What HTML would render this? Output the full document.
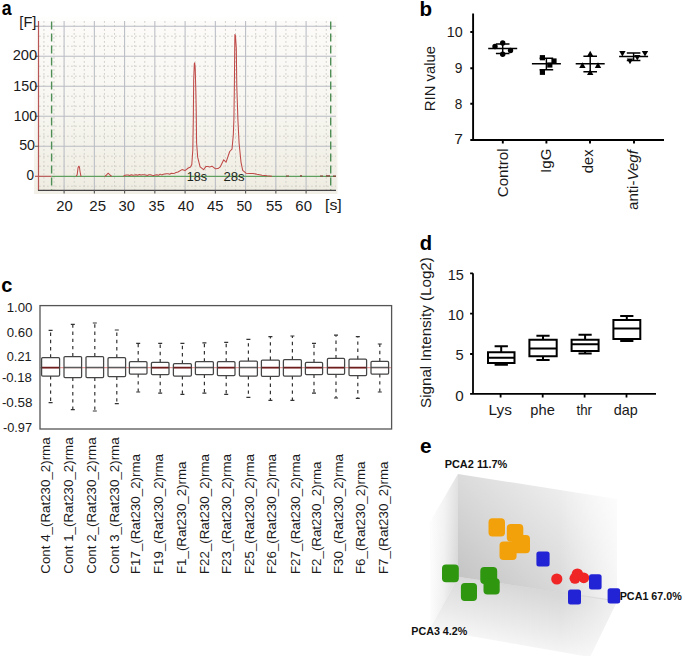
<!DOCTYPE html>
<html><head><meta charset="utf-8"><style>
html,body{margin:0;padding:0;background:#fff;}
svg{display:block;}
text{font-family:"Liberation Sans",sans-serif;fill:#1a1a1a;}
</style></head><body>
<svg width="685" height="656" viewBox="0 0 685 656">
<rect width="685" height="656" fill="#fff"/>
<defs><linearGradient id="pabg" x1="0" y1="21" x2="0" y2="191" gradientUnits="userSpaceOnUse"><stop offset="0" stop-color="#fcfbf9"/><stop offset="0.45" stop-color="#f8f7f2"/><stop offset="1" stop-color="#efede2"/></linearGradient></defs>
<defs><linearGradient id="pabg2" x1="0" y1="17" x2="0" y2="194" gradientUnits="userSpaceOnUse"><stop offset="0" stop-color="#fefefd"/><stop offset="0.5" stop-color="#faf9f5"/><stop offset="1" stop-color="#f1efe6"/></linearGradient></defs>
<rect x="34" y="17" width="303.5" height="177" fill="url(#pabg2)"/>
<rect x="38.5" y="21" width="297.5" height="169.5" fill="url(#pabg)"/>
<path d="M43.93 21V190 M54.02 21V190 M74.18 21V190 M84.27 21V190 M104.43 21V190 M114.52 21V190 M134.68 21V190 M144.77 21V190 M164.93 21V190 M175.02 21V190 M195.18 21V190 M205.27 21V190 M225.43 21V190 M235.52 21V190 M255.68 21V190 M265.77 21V190 M285.93 21V190 M296.02 21V190 M316.18 21V190 M326.27 21V190 M39 36.20H336 M39 46.20H336 M39 66.20H336 M39 76.20H336 M39 96.20H336 M39 106.20H336 M39 126.20H336 M39 136.20H336 M39 156.20H336 M39 166.20H336 M39 186.20H336" stroke="#d2d0ca" stroke-width="1" stroke-dasharray="1.8 2.2" fill="none"/>
<path d="M64.10 21V190.5 M94.35 21V190.5 M124.60 21V190.5 M154.85 21V190.5 M185.10 21V190.5 M215.35 21V190.5 M245.60 21V190.5 M275.85 21V190.5 M306.10 21V190.5 M38.5 26.20H336 M38.5 56.20H336 M38.5 86.20H336 M38.5 116.20H336 M38.5 146.20H336" stroke="#b9bcc3" stroke-width="1.05" fill="none"/>
<path d="M51.6 21.4V190.5M330.7 21.4V190.5" stroke="#4f8f55" stroke-width="1.4" stroke-dasharray="8 4" fill="none"/>
<path d="M35 176.3H51.6" stroke="#b04a4a" stroke-width="1.1"/>
<path d="M51.6 176.3H336" stroke="#5f9f5f" stroke-width="1.2"/>
<path d="M38.5 21V190.5" stroke="#b85555" stroke-width="1.2"/>
<path d="M38 190.4H336" stroke="#444" stroke-width="1.3"/>
<path d="M64.10 190V193.5 M94.35 190V193.5 M124.60 190V193.5 M154.85 190V193.5 M185.10 190V193.5 M215.35 190V193.5 M245.60 190V193.5 M275.85 190V193.5 M306.10 190V193.5 M35 26.20H38.5 M35 56.20H38.5 M35 86.20H38.5 M35 116.20H38.5 M35 146.20H38.5" stroke="#555" stroke-width="1.1"/>
<polyline points="76.2,176.3 77.2,174.5 78.0,168.0 78.7,166.2 79.4,166.8 80.1,172.0 81.0,176.3" fill="none" stroke="#bf4a48" stroke-width="1.05" stroke-linejoin="round"/>
<polyline points="104.8,176.3 106.5,175.0 108.2,173.2 110.0,175.0 111.7,176.3" fill="none" stroke="#bf4a48" stroke-width="1.05" stroke-linejoin="round"/>
<polyline points="123.5,176.2 125.0,175.3 126.5,175.1 128.1,174.9 129.7,175.4 131.3,174.7 132.9,175.3 134.5,175.1 136.1,174.7 137.7,175.2 139.3,174.6 140.9,175.1 142.5,174.7 144.1,174.7 145.7,175.1 147.3,175.5 148.9,174.7 150.5,174.7 152.1,175.2 153.7,175.5 155.3,175.0 156.9,174.7 158.5,175.3 160.1,174.1 161.7,174.9 163.3,174.2 164.9,173.9 166.5,173.7 168.1,173.8 169.7,174.2 171.3,173.3 172.9,173.6 174.5,173.2 176.1,172.4 178.0,172.0 182.0,169.6 185.0,170.6 188.3,168.0 190.5,167.0 191.8,164.5 192.8,150.0 193.3,120.0 193.7,80.0 194.3,64.0 194.7,62.8 195.2,68.0 195.8,90.0 196.2,110.0 196.6,143.0 197.7,157.4 200.1,166.9 203.6,169.7 206.0,166.4 208.0,166.6 209.6,166.9 212.0,166.2 215.5,168.8 218.0,168.6 220.2,166.9 223.7,159.8 226.1,162.1 229.7,151.5 232.0,149.1 233.3,135.0 233.9,119.6 234.4,84.0 234.7,50.0 234.9,34.5 235.5,36.0 236.3,48.6 236.8,86.5 237.9,119.6 239.1,143.2 241.0,162.1 242.7,170.4 246.0,173.2 250.0,173.4 253.0,173.4 257.0,174.3 262.0,175.2 267.0,175.8 272.0,176.2" fill="none" stroke="#bf4a48" stroke-width="1.05" stroke-linejoin="round"/>
<path d="M286 176H289M300 175.9H302M320 176H323M326 175.9H330M333 176.2H336" stroke="#8a3a36" stroke-width="1.2"/>
<text x="19.38" y="27.20" style="font-size:14.20px" textLength="17.07" lengthAdjust="spacingAndGlyphs">[F]</text>
<text x="12.67" y="60.10" style="font-size:14.20px" textLength="24.50" lengthAdjust="spacingAndGlyphs">200</text>
<text x="13.33" y="90.70" style="font-size:14.20px" textLength="23.82" lengthAdjust="spacingAndGlyphs">150</text>
<text x="13.85" y="121.00" style="font-size:14.20px" textLength="23.28" lengthAdjust="spacingAndGlyphs">100</text>
<text x="19.23" y="150.30" style="font-size:14.20px" textLength="15.80" lengthAdjust="spacingAndGlyphs">50</text>
<text x="26.56" y="180.20" style="font-size:14.20px" textLength="7.53" lengthAdjust="spacingAndGlyphs">0</text>
<text x="56.26" y="210.60" style="font-size:14.20px" textLength="16.50" lengthAdjust="spacingAndGlyphs">20</text>
<text x="89.35" y="210.60" style="font-size:14.20px" textLength="16.69" lengthAdjust="spacingAndGlyphs">25</text>
<text x="118.41" y="210.60" style="font-size:14.20px" textLength="16.44" lengthAdjust="spacingAndGlyphs">30</text>
<text x="148.62" y="210.60" style="font-size:14.20px" textLength="16.09" lengthAdjust="spacingAndGlyphs">35</text>
<text x="177.81" y="210.60" style="font-size:14.20px" textLength="16.34" lengthAdjust="spacingAndGlyphs">40</text>
<text x="207.00" y="210.60" style="font-size:14.20px" textLength="16.42" lengthAdjust="spacingAndGlyphs">45</text>
<text x="236.44" y="210.60" style="font-size:14.20px" textLength="15.58" lengthAdjust="spacingAndGlyphs">50</text>
<text x="266.11" y="210.60" style="font-size:14.20px" textLength="16.52" lengthAdjust="spacingAndGlyphs">55</text>
<text x="295.35" y="210.60" style="font-size:14.20px" textLength="16.60" lengthAdjust="spacingAndGlyphs">60</text>
<text x="324.99" y="210.40" style="font-size:14.20px" textLength="16.73" lengthAdjust="spacingAndGlyphs">[s]</text>
<text x="186.86" y="180.70" style="font-size:13.50px;fill:#1c261c" textLength="20.32" lengthAdjust="spacingAndGlyphs">18s</text>
<text x="223.44" y="180.70" style="font-size:13.50px;fill:#1c261c" textLength="21.25" lengthAdjust="spacingAndGlyphs">28s</text>
<text x="1.82" y="15.15" style="font-size:20.00px;font-weight:bold;fill:#000" textLength="9.88" lengthAdjust="spacingAndGlyphs" >a</text>
<text x="419.51" y="15.95" style="font-size:19.59px;font-weight:bold;fill:#000" textLength="12.58" lengthAdjust="spacingAndGlyphs" >b</text>
<path d="M473.1 13.6V141M470.3 140H664M470.3 32H473.1M470.3 68.2H473.1M470.3 103.8H473.1M502.8 140V143.6M546.4 140V143.6M590 140V143.6M634 140V143.6" stroke="#000" stroke-width="1.9" fill="none"/>
<text x="446.83" y="37.10" style="font-size:14.50px" textLength="15.91" lengthAdjust="spacingAndGlyphs">10</text>
<text x="454.78" y="73.30" style="font-size:14.50px" textLength="7.65" lengthAdjust="spacingAndGlyphs">9</text>
<text x="454.79" y="108.60" style="font-size:14.50px" textLength="7.57" lengthAdjust="spacingAndGlyphs">8</text>
<text x="454.32" y="144.10" style="font-size:14.50px" textLength="8.68" lengthAdjust="spacingAndGlyphs">7</text>
<text transform="translate(435.30,111.19) rotate(-90)" style="font-size:14.50px" textLength="65.17" lengthAdjust="spacingAndGlyphs">RIN value</text>
<text transform="translate(507.70,197.26) rotate(-90)" style="font-size:14.10px" textLength="48.80" lengthAdjust="spacingAndGlyphs">Control</text>
<text transform="translate(551.00,172.96) rotate(-90)" style="font-size:14.10px" textLength="24.34" lengthAdjust="spacingAndGlyphs">IgG</text>
<text transform="translate(593.40,173.19) rotate(-90)" style="font-size:14.10px" textLength="23.67" lengthAdjust="spacingAndGlyphs">dex</text>
<text transform="translate(638.20,209.91) rotate(-90)" style="font-size:14.10px" textLength="59.77" lengthAdjust="spacingAndGlyphs">anti-<tspan style="font-style:italic">Vegf</tspan></text>
<path d="M488.2 48.4H517.2M495.9 43.9H509.5M495.9 53.5H509.5M502.7 43.9V53.5M531.9 63.8H560.9M539.6 58.2H553.2M539.6 69.8H553.2M546.4 58.2V69.8M575.7 63.8H604.7M583.4 56.2H597.0M583.4 71.7H597.0M590.2 56.2V71.7M619.1 56.4H648.1M626.8 53H640.4M626.8 60.4H640.4M633.6 53V60.4" stroke="#000" stroke-width="1.45" fill="none"/>
<circle cx="502.7" cy="43" r="2.7" fill="#000"/>
<circle cx="495" cy="46.5" r="2.7" fill="#000"/>
<circle cx="510.5" cy="50.5" r="2.7" fill="#000"/>
<circle cx="502.7" cy="54.3" r="2.7" fill="#000"/>
<rect x="539.8" y="55.1" width="5.2" height="5.2" fill="#000"/>
<rect x="551.4" y="58.4" width="5.2" height="5.2" fill="#000"/>
<rect x="547.2" y="62.4" width="5.2" height="5.2" fill="#000"/>
<rect x="539.8" y="69.7" width="5.2" height="5.2" fill="#000"/>
<path d="M590.2 50.8L593.4 56.4H587.0Z" fill="#000"/>
<path d="M582.4 62.3L585.6 67.9H579.2Z" fill="#000"/>
<path d="M598 62.3L601.2 67.9H594.8Z" fill="#000"/>
<path d="M590.2 69.3L593.4 74.9H587.0Z" fill="#000"/>
<path d="M622.4 56.6L625.6 51.0H619.2Z" fill="#000"/>
<path d="M645 56.6L648.2 51.0H641.8Z" fill="#000"/>
<path d="M637.3 60.6L640.5 55.0H634.1Z" fill="#000"/>
<path d="M630 64.2L633.2 58.6H626.8Z" fill="#000"/>
<text x="1.35" y="292.35" style="font-size:20.18px;font-weight:bold;fill:#000" textLength="11.12" lengthAdjust="spacingAndGlyphs" >c</text>
<text x="6.71" y="312.30" style="font-size:13.20px" textLength="25.77" lengthAdjust="spacingAndGlyphs">1.00</text>
<text x="6.77" y="337.10" style="font-size:13.20px" textLength="25.71" lengthAdjust="spacingAndGlyphs">0.60</text>
<text x="6.79" y="361.40" style="font-size:13.20px" textLength="24.80" lengthAdjust="spacingAndGlyphs">0.21</text>
<text x="1.91" y="381.70" style="font-size:13.20px" textLength="30.01" lengthAdjust="spacingAndGlyphs">-0.18</text>
<text x="1.90" y="406.90" style="font-size:13.20px" textLength="30.63" lengthAdjust="spacingAndGlyphs">-0.58</text>
<text x="2.93" y="431.60" style="font-size:13.20px" textLength="29.11" lengthAdjust="spacingAndGlyphs">-0.97</text>
<path d="M40 367.6H391.6" stroke="#e89a9a" stroke-width="1.3"/>
<path d="M50.6 357.6V330.3M50.6 376V402.6M72.8 356.5V324.4M72.8 377.6V409.6M94.8 356.5V323M94.8 377.6V411M116.8 357.6V330M116.8 376.6V403.6M138.2 361.6V343.4M138.2 374V392M160.2 362.4V343.4M160.2 374.6V393.2M182.4 363.6V343.4M182.4 376V394.4M204.4 361.6V342.8M204.4 374.6V393.2M226.2 361.6V342.4M226.2 375.6V394.4M248.4 361V339.4M248.4 376V397.4M270.4 360V336.6M270.4 376.4V400.4M292.4 359.6V336M292.4 376V400.4M314.0 362.4V343.4M314.0 374.6V393.2M336.0 358.4V335.2M336.0 374.4V398M357.8 359.2V336.6M357.8 375.6V398.4M379.8 361.4V344M379.8 374V392" stroke="#333" stroke-width="1.2" stroke-dasharray="3.4 3.8" fill="none"/>
<path d="M48.6 330.3H52.6M48.6 402.6H52.6M70.8 324.4H74.8M70.8 409.6H74.8M92.8 323H96.8M92.8 411H96.8M114.8 330H118.8M114.8 403.6H118.8M136.2 343.4H140.2M136.2 392H140.2M158.2 343.4H162.2M158.2 393.2H162.2M180.4 343.4H184.4M180.4 394.4H184.4M202.4 342.8H206.4M202.4 393.2H206.4M224.2 342.4H228.2M224.2 394.4H228.2M246.4 339.4H250.4M246.4 397.4H250.4M268.4 336.6H272.4M268.4 400.4H272.4M290.4 336H294.4M290.4 400.4H294.4M312.0 343.4H316.0M312.0 393.2H316.0M334.0 335.2H338.0M334.0 398H338.0M355.8 336.6H359.8M355.8 398.4H359.8M377.8 344H381.8M377.8 392H381.8" stroke="#333" stroke-width="1.2" fill="none"/>
<path d="M41.6 367.6H59.6M151.4 367.6H169M173.4 367.6H191.4M217.4 367.6H235M261.4 367.6H279.4M283.4 367.6H301.4M305.4 367.6H322.6M327.4 367.6H344.6M349 367.6H366.6" stroke="#6e1d1d" stroke-width="1.7" fill="none"/>
<path d="M64 367.6H81.6M86 367.6H103.6M108 367.6H125.6M129.4 367.6H147M195.4 367.6H213.4M239.4 367.6H257.4M371 367.6H388.6" stroke="#5c5c5c" stroke-width="1.5" fill="none"/>
<rect x="41.6" y="357.6" width="18.0" height="18.4" rx="1.1" fill="none" stroke="#454545" stroke-width="1.25"/>
<rect x="64" y="356.5" width="17.6" height="21.1" rx="1.1" fill="none" stroke="#454545" stroke-width="1.25"/>
<rect x="86" y="356.5" width="17.6" height="21.1" rx="1.1" fill="none" stroke="#454545" stroke-width="1.25"/>
<rect x="108" y="357.6" width="17.6" height="19.0" rx="1.1" fill="none" stroke="#454545" stroke-width="1.25"/>
<rect x="129.4" y="361.6" width="17.6" height="12.4" rx="1.1" fill="none" stroke="#454545" stroke-width="1.25"/>
<rect x="151.4" y="362.4" width="17.6" height="12.2" rx="1.1" fill="none" stroke="#454545" stroke-width="1.25"/>
<rect x="173.4" y="363.6" width="18.0" height="12.4" rx="1.1" fill="none" stroke="#454545" stroke-width="1.25"/>
<rect x="195.4" y="361.6" width="18.0" height="13.0" rx="1.1" fill="none" stroke="#454545" stroke-width="1.25"/>
<rect x="217.4" y="361.6" width="17.6" height="14.0" rx="1.1" fill="none" stroke="#454545" stroke-width="1.25"/>
<rect x="239.4" y="361" width="18.0" height="15.0" rx="1.1" fill="none" stroke="#454545" stroke-width="1.25"/>
<rect x="261.4" y="360" width="18.0" height="16.4" rx="1.1" fill="none" stroke="#454545" stroke-width="1.25"/>
<rect x="283.4" y="359.6" width="18.0" height="16.4" rx="1.1" fill="none" stroke="#454545" stroke-width="1.25"/>
<rect x="305.4" y="362.4" width="17.2" height="12.2" rx="1.1" fill="none" stroke="#454545" stroke-width="1.25"/>
<rect x="327.4" y="358.4" width="17.2" height="16.0" rx="1.1" fill="none" stroke="#454545" stroke-width="1.25"/>
<rect x="349" y="359.2" width="17.6" height="16.4" rx="1.1" fill="none" stroke="#454545" stroke-width="1.25"/>
<rect x="371" y="361.4" width="17.6" height="12.6" rx="1.1" fill="none" stroke="#454545" stroke-width="1.25"/>
<rect x="40" y="305.6" width="351.6" height="123.4" fill="none" stroke="#555" stroke-width="1.3"/>
<text transform="translate(50.40,573.67) rotate(-90)" style="font-size:13.00px" textLength="136.30" lengthAdjust="spacingAndGlyphs">Cont 4_(Rat230_2)rma</text>
<text transform="translate(72.80,573.67) rotate(-90)" style="font-size:13.00px" textLength="136.30" lengthAdjust="spacingAndGlyphs">Cont 1_(Rat230_2)rma</text>
<text transform="translate(96.20,573.67) rotate(-90)" style="font-size:13.00px" textLength="136.30" lengthAdjust="spacingAndGlyphs">Cont 2_(Rat230_2)rma</text>
<text transform="translate(118.80,573.67) rotate(-90)" style="font-size:13.00px" textLength="136.30" lengthAdjust="spacingAndGlyphs">Cont 3_(Rat230_2)rma</text>
<text transform="translate(140.30,574.07) rotate(-90)" style="font-size:13.00px" textLength="120.00" lengthAdjust="spacingAndGlyphs">F17_(Rat230_2)rma</text>
<text transform="translate(163.20,574.07) rotate(-90)" style="font-size:13.00px" textLength="120.00" lengthAdjust="spacingAndGlyphs">F19_(Rat230_2)rma</text>
<text transform="translate(185.50,574.07) rotate(-90)" style="font-size:13.00px" textLength="112.59" lengthAdjust="spacingAndGlyphs">F1_(Rat230_2)rma</text>
<text transform="translate(208.60,574.07) rotate(-90)" style="font-size:13.00px" textLength="120.00" lengthAdjust="spacingAndGlyphs">F22_(Rat230_2)rma</text>
<text transform="translate(231.20,574.07) rotate(-90)" style="font-size:13.00px" textLength="120.00" lengthAdjust="spacingAndGlyphs">F23_(Rat230_2)rma</text>
<text transform="translate(253.60,574.07) rotate(-90)" style="font-size:13.00px" textLength="120.00" lengthAdjust="spacingAndGlyphs">F25_(Rat230_2)rma</text>
<text transform="translate(276.40,574.07) rotate(-90)" style="font-size:13.00px" textLength="120.00" lengthAdjust="spacingAndGlyphs">F26_(Rat230_2)rma</text>
<text transform="translate(299.50,574.07) rotate(-90)" style="font-size:13.00px" textLength="120.00" lengthAdjust="spacingAndGlyphs">F27_(Rat230_2)rma</text>
<text transform="translate(320.60,574.07) rotate(-90)" style="font-size:13.00px" textLength="112.59" lengthAdjust="spacingAndGlyphs">F2_(Rat230_2)rma</text>
<text transform="translate(342.90,574.07) rotate(-90)" style="font-size:13.00px" textLength="120.00" lengthAdjust="spacingAndGlyphs">F30_(Rat230_2)rma</text>
<text transform="translate(365.20,574.07) rotate(-90)" style="font-size:13.00px" textLength="112.59" lengthAdjust="spacingAndGlyphs">F6_(Rat230_2)rma</text>
<text transform="translate(387.60,574.07) rotate(-90)" style="font-size:13.00px" textLength="112.59" lengthAdjust="spacingAndGlyphs">F7_(Rat230_2)rma</text>
<text x="419.84" y="249.65" style="font-size:19.59px;font-weight:bold;fill:#000" textLength="12.34" lengthAdjust="spacingAndGlyphs" >d</text>
<path d="M473 273.3V394.6M470.1 393.8H656M470.1 273.3H473M470.1 313.7H473M470.1 354H473M500.6 393.8V397.5M542.7 393.8V397.5M584.6 393.8V397.5M626.5 393.8V397.5" stroke="#000" stroke-width="1.8" fill="none"/>
<text x="447.71" y="279.60" style="font-size:14.50px" textLength="16.10" lengthAdjust="spacingAndGlyphs">15</text>
<text x="447.70" y="319.50" style="font-size:14.50px" textLength="16.24" lengthAdjust="spacingAndGlyphs">10</text>
<text x="455.41" y="360.00" style="font-size:14.50px" textLength="8.20" lengthAdjust="spacingAndGlyphs">5</text>
<text x="455.39" y="400.50" style="font-size:14.50px" textLength="8.46" lengthAdjust="spacingAndGlyphs">0</text>
<text transform="translate(431.20,407.88) rotate(-90)" style="font-size:14.30px" textLength="150.67" lengthAdjust="spacingAndGlyphs">Signal Intensity (Log2)</text>
<text x="488.57" y="415.30" style="font-size:14.50px" textLength="23.35" lengthAdjust="spacingAndGlyphs">Lys</text>
<text x="530.35" y="415.30" style="font-size:14.50px" textLength="24.46" lengthAdjust="spacingAndGlyphs">phe</text>
<text x="576.50" y="415.30" style="font-size:14.50px" textLength="15.53" lengthAdjust="spacingAndGlyphs">thr</text>
<text x="613.82" y="415.30" style="font-size:14.50px" textLength="24.00" lengthAdjust="spacingAndGlyphs">dap</text>
<path d="M488 352.2H514.5V363H488ZM488 357.8H514.5M501.2 352.2V346.3M494.6 346.3H507.9M501.2 363V364.7M494.6 364.7H507.9M529.4 339.7H556.7V356.2H529.4ZM529.4 348.5H556.7M543.0 339.7V335.7M536.4 335.7H549.6M543.0 356.2V360M536.4 360H549.6M571.6 339.7H598.6V351H571.6ZM571.6 344.2H598.6M585.1 339.7V334.8M578.5 334.8H591.7M585.1 351V353.5M578.5 353.5H591.7M613.4 320H640.3V338.9H613.4ZM613.4 328.6H640.3M626.8 320V316M620.2 316H633.4M626.8 338.9V341M620.2 341H633.4" stroke="#000" stroke-width="2" fill="none"/>
<text x="420.02" y="453.45" style="font-size:19.82px;font-weight:bold;fill:#000" textLength="11.59" lengthAdjust="spacingAndGlyphs" >e</text>
<defs>
<linearGradient id="lw" x1="430" y1="0" x2="458" y2="0" gradientUnits="userSpaceOnUse"><stop offset="0" stop-color="#fdfdfd"/><stop offset="0.5" stop-color="#efefef"/><stop offset="1" stop-color="#d2d2d2"/></linearGradient>
<linearGradient id="lwv" x1="0" y1="480" x2="0" y2="620" gradientUnits="userSpaceOnUse"><stop offset="0" stop-color="#fff" stop-opacity="0.35"/><stop offset="1" stop-color="#fff" stop-opacity="0"/></linearGradient>
<linearGradient id="bw" x1="466" y1="592" x2="590" y2="468" gradientUnits="userSpaceOnUse"><stop offset="0" stop-color="#c3c3c3"/><stop offset="0.4" stop-color="#d9d9d9"/><stop offset="0.75" stop-color="#ebebeb"/><stop offset="1" stop-color="#f7f7f7"/></linearGradient>
<linearGradient id="fl" x1="520" y1="588" x2="506" y2="655" gradientUnits="userSpaceOnUse"><stop offset="0" stop-color="#d8d8d8"/><stop offset="0.55" stop-color="#ebebeb"/><stop offset="1" stop-color="#fcfcfc"/></linearGradient>
<linearGradient id="fr" x1="560" y1="0" x2="620" y2="0" gradientUnits="userSpaceOnUse"><stop offset="0" stop-color="#fff" stop-opacity="0"/><stop offset="1" stop-color="#fff" stop-opacity="0.7"/></linearGradient>
</defs>
<path d="M458 474L617 499V601L458 577Z" fill="url(#bw)"/>
<path d="M430 522L458 474V577L430 629Z" fill="url(#lw)"/>
<path d="M430 522L458 474V577L430 629Z" fill="url(#lwv)"/>
<path d="M430 629L458 577L617 601L590 657L430 629Z" fill="url(#fl)"/>
<path d="M560 480L617 499V601L590 657L560 652Z" fill="url(#fr)"/>
<path d="M458 577L617 601" stroke="#d4d4d4" stroke-width="0.8" fill="none"/>
<rect x="488.5" y="518.3" width="16.5" height="18.3" rx="4" fill="#f3a10b"/>
<rect x="506.8" y="524" width="16.5" height="17.7" rx="4" fill="#f3a10b"/>
<rect x="512.3" y="535" width="17.7" height="18.3" rx="4" fill="#f3a10b"/>
<rect x="499.5" y="541.5" width="17.1" height="18.5" rx="4" fill="#f3a10b"/>
<rect x="442" y="564.5" width="16.8" height="17.8" rx="4" fill="#2e960f"/>
<rect x="460.9" y="583" width="16.1" height="17.9" rx="4" fill="#2e960f"/>
<rect x="480.3" y="567" width="16.9" height="17.0" rx="4" fill="#2e960f"/>
<rect x="483.5" y="578.3" width="16.2" height="16.1" rx="4" fill="#2e960f"/>
<circle cx="556.8" cy="579" r="5.6" fill="#f02525"/>
<circle cx="575" cy="578.3" r="5.5" fill="#f02525"/>
<circle cx="577.4" cy="574.2" r="5.8" fill="#f02525"/>
<circle cx="583.8" cy="577.8" r="5.4" fill="#f02525"/>
<rect x="536.4" y="551.6" width="13.2" height="14.8" rx="2.5" fill="#2323d6"/>
<rect x="589" y="574.2" width="12.6" height="15.4" rx="2.5" fill="#2323d6"/>
<rect x="568" y="589.6" width="13.0" height="15.0" rx="2.5" fill="#2323d6"/>
<rect x="607.6" y="588.2" width="12.6" height="15.2" rx="2.5" fill="#2323d6"/>
<text x="444.69" y="468.10" style="font-size:10.42px;font-weight:bold;fill:#111" textLength="62.59" lengthAdjust="spacingAndGlyphs" >PCA2 11.7%</text>
<text x="619.70" y="600.20" style="font-size:10.28px;font-weight:bold;fill:#111" textLength="62.18" lengthAdjust="spacingAndGlyphs" >PCA1 67.0%</text>
<text x="411.30" y="635.30" style="font-size:10.00px;font-weight:bold;fill:#111" textLength="55.96" lengthAdjust="spacingAndGlyphs" >PCA3 4.2%</text>
</svg>
</body></html>
